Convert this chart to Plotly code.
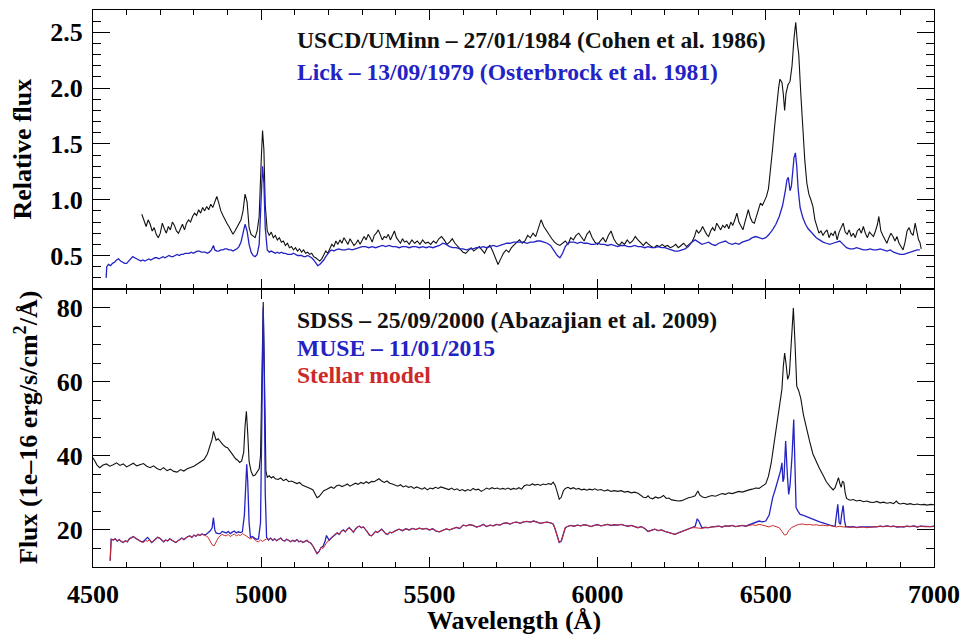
import plotly.graph_objects as go

# ---------------- Top panel: relative flux ----------------
uscd_wl = [4645,4652,4658,4664,4670,4676,4682,4688,4694,4700,4706,4712,4718,4724,4730,4736,4742,4748,4754,4760,
           4766,4772,4778,4784,4790,4796,4802,4808,4814,4820,4826,4832,4838,4844,4850,4856,4862,4868,4874,4880,
           4886,4892,4898,4904,4910,4916,4922,4928,4934,4940,4946,4952,4958,4964,4970,4976,4982,4988,4994,5000,
           5004,5008,5012,5018,5024,5030,5036,5042,5048,5054,5060,5066,5072,5078,5084,5090,5096,5102,5108,5114,
           5120,5126,5132,5138,5144,5150,5156,5162,5168,5174,5180,5186,5192,5198,5204,5210,5216,5222,5228,5234,
           5240,5246,5252,5258,5264,5270,5276,5282,5288,5294,5300,5306,5312,5318,5324,5330,5336,5342,5348,5354,
           5360,5366,5372,5378,5384,5390,5396,5402,5408,5414,5420,5426,5432,5440,5448,5456,5464,5472,5480,5488,
           5496,5504,5512,5520,5528,5536,5544,5552,5560,5568,5576,5584,5592,5600,5608,5616,5624,5632,5640,5648,
           5656,5664,5672,5680,5688,5696,5704,5712,5720,5728,5736,5744,5752,5760,5768,5776,5784,5792,5800,5808,
           5816,5824,5832,5840,5848,5856,5864,5872,5880,5888,5896,5904,5912,5920,5928,5936,5944,5952,5960,5968,
           5976,5984,5992,6000,6008,6016,6024,6032,6040,6048,6056,6064,6072,6080,6088,6096,6104,6112,6120,6128,
           6136,6144,6152,6160,6168,6176,6184,6192,6200,6208,6216,6224,6232,6240,6248,6256,6264,6272,6280,6288,
           6294,6300,6306,6312,6318,6324,6330,6336,6342,6348,6354,6360,6366,6372,6378,6384,6390,6396,6402,6408,
           6414,6420,6426,6432,6438,6444,6448,6454,6460,6466,6472,6478,6484,6490,6496,6502,6508,6514,6520,6526,
           6532,6538,6542,6548,6552,6556,6560,6566,6572,6578,6584,6589,6594,6598,6604,6610,6616,6622,6628,6634,
           6640,6646,6652,6658,6664,6670,6676,6682,6688,6694,6700,6706,6712,6718,6724,6730,6736,6742,6748,6754,
           6760,6766,6772,6778,6784,6790,6796,6802,6808,6814,6820,6826,6832,6836,6842,6848,6854,6860,6866,6872,
           6878,6884,6890,6896,6902,6908,6914,6920,6926,6932,6938,6944,6950,6954,6958,6962]
uscd_flux = [0.87,0.80,0.76,0.82,0.78,0.72,0.75,0.69,0.66,0.70,0.79,0.74,0.70,0.76,0.73,0.80,0.77,0.72,0.70,0.74,
             0.78,0.73,0.79,0.82,0.80,0.85,0.88,0.86,0.91,0.88,0.93,0.90,0.94,0.91,0.96,0.93,0.98,1.03,0.97,0.90,
             0.86,0.82,0.79,0.76,0.72,0.69,0.72,0.75,0.78,0.82,0.90,1.05,0.98,0.75,0.69,0.67,0.66,0.72,0.85,1.35,
             1.62,1.45,0.95,0.72,0.68,0.71,0.66,0.68,0.64,0.66,0.62,0.63,0.59,0.61,0.57,0.58,0.55,0.57,0.54,0.56,
             0.53,0.55,0.52,0.53,0.51,0.52,0.49,0.48,0.46,0.45,0.47,0.50,0.54,0.52,0.57,0.60,0.58,0.63,0.60,0.64,
             0.61,0.66,0.63,0.60,0.65,0.62,0.59,0.61,0.64,0.60,0.63,0.67,0.64,0.69,0.66,0.62,0.68,0.70,0.73,0.68,
             0.64,0.67,0.66,0.69,0.64,0.68,0.72,0.66,0.63,0.61,0.65,0.62,0.63,0.60,0.64,0.61,0.63,0.60,0.64,0.61,
             0.62,0.60,0.63,0.61,0.65,0.67,0.64,0.60,0.62,0.65,0.61,0.58,0.55,0.53,0.52,0.55,0.57,0.54,0.56,0.58,
             0.55,0.52,0.57,0.59,0.54,0.48,0.42,0.47,0.52,0.55,0.53,0.57,0.60,0.62,0.64,0.61,0.63,0.68,0.66,0.70,
             0.67,0.74,0.82,0.76,0.72,0.69,0.65,0.62,0.60,0.59,0.61,0.63,0.60,0.66,0.64,0.68,0.70,0.66,0.63,0.69,
             0.72,0.66,0.62,0.60,0.63,0.66,0.62,0.68,0.72,0.65,0.61,0.59,0.62,0.60,0.64,0.61,0.63,0.67,0.64,0.61,
             0.59,0.62,0.60,0.58,0.57,0.59,0.58,0.60,0.58,0.59,0.57,0.58,0.60,0.57,0.59,0.61,0.58,0.60,0.62,0.67,
             0.73,0.70,0.72,0.76,0.72,0.69,0.67,0.72,0.75,0.72,0.79,0.76,0.73,0.77,0.75,0.78,0.74,0.80,0.77,0.82,
             0.88,0.80,0.76,0.73,0.80,0.86,0.91,0.84,0.80,0.79,0.85,0.92,0.97,0.95,0.99,1.03,1.10,1.25,1.45,1.65,
             1.85,2.00,2.08,2.05,1.95,1.80,1.95,2.03,2.06,2.20,2.45,2.59,2.40,2.30,1.95,1.60,1.35,1.15,1.05,1.00,
             0.94,0.82,0.75,0.70,0.72,0.68,0.71,0.73,0.66,0.70,0.68,0.72,0.64,0.71,0.75,0.79,0.71,0.69,0.73,0.67,
             0.70,0.66,0.72,0.74,0.70,0.76,0.70,0.66,0.71,0.69,0.67,0.72,0.78,0.85,0.72,0.68,0.64,0.61,0.66,0.70,
             0.67,0.63,0.67,0.61,0.58,0.55,0.62,0.72,0.75,0.70,0.68,0.79,0.70,0.64,0.62,0.56]

lick_wl = [4539,4541,4546,4552,4558,4564,4570,4576,4582,4588,4594,4600,4606,4612,4618,4624,4630,4636,4642,4648,
           4654,4660,4666,4672,4678,4684,4690,4696,4702,4708,4714,4720,4726,4732,4738,4744,4750,4756,4762,4768,
           4774,4780,4786,4792,4798,4804,4810,4816,4822,4828,4834,4840,4846,4852,4858,4862,4868,4874,4880,4886,
           4892,4898,4904,4910,4916,4922,4928,4934,4940,4946,4952,4958,4964,4970,4976,4982,4988,4994,5000,5004,
           5008,5012,5018,5024,5030,5036,5042,5048,5054,5060,5066,5072,5078,5084,5090,5096,5102,5108,5114,5120,
           5126,5132,5138,5144,5150,5156,5162,5168,5174,5180,5186,5192,5198,5204,5210,5216,5222,5230,5240,5250,
           5260,5270,5280,5290,5300,5310,5320,5330,5340,5350,5360,5370,5380,5390,5400,5410,5420,5430,5440,5450,
           5460,5470,5480,5490,5500,5510,5520,5530,5540,5550,5560,5570,5580,5590,5600,5610,5620,5630,5640,5650,
           5660,5670,5680,5690,5700,5710,5720,5730,5740,5750,5760,5770,5780,5790,5800,5810,5820,5830,5840,5850,
           5860,5870,5880,5888,5896,5904,5912,5920,5930,5940,5950,5960,5970,5980,5990,6000,6010,6020,6030,6040,
           6050,6060,6070,6080,6090,6100,6110,6120,6130,6140,6150,6160,6170,6180,6190,6200,6210,6220,6230,6240,
           6250,6260,6270,6280,6290,6300,6310,6320,6330,6340,6350,6360,6370,6380,6390,6400,6410,6420,6430,6440,
           6450,6460,6470,6480,6490,6500,6510,6520,6530,6540,6550,6558,6563,6567,6572,6576,6580,6584,6588,6592,
           6596,6602,6610,6618,6626,6634,6642,6650,6660,6670,6680,6690,6700,6710,6720,6730,6740,6750,6760,6770,
           6780,6790,6800,6810,6820,6830,6840,6850,6860,6870,6880,6890,6900,6910,6920,6930,6940,6950,6958]
lick_flux = [0.30,0.40,0.42,0.41,0.43,0.44,0.46,0.47,0.45,0.44,0.43,0.43,0.45,0.47,0.49,0.48,0.47,0.46,0.45,0.46,
             0.45,0.46,0.47,0.46,0.47,0.48,0.48,0.47,0.48,0.49,0.48,0.49,0.50,0.49,0.49,0.50,0.51,0.50,0.51,0.51,
             0.52,0.52,0.52,0.53,0.52,0.53,0.54,0.54,0.53,0.53,0.53,0.52,0.53,0.55,0.59,0.55,0.54,0.54,0.55,0.55,
             0.56,0.56,0.55,0.55,0.54,0.55,0.56,0.58,0.62,0.70,0.78,0.72,0.60,0.53,0.50,0.49,0.51,0.60,1.10,1.30,
             1.15,0.75,0.55,0.53,0.54,0.53,0.52,0.53,0.52,0.53,0.52,0.52,0.51,0.51,0.51,0.52,0.51,0.50,0.50,0.50,
             0.49,0.49,0.50,0.49,0.48,0.46,0.43,0.41,0.42,0.44,0.46,0.49,0.52,0.54,0.55,0.54,0.55,0.56,0.55,0.55,
             0.56,0.55,0.56,0.57,0.58,0.58,0.57,0.58,0.57,0.58,0.59,0.58,0.59,0.58,0.58,0.57,0.58,0.58,0.57,0.58,
             0.58,0.57,0.58,0.57,0.58,0.57,0.58,0.59,0.61,0.60,0.58,0.57,0.57,0.56,0.56,0.55,0.56,0.56,0.57,0.57,
             0.58,0.57,0.58,0.59,0.58,0.59,0.60,0.61,0.61,0.62,0.62,0.62,0.62,0.61,0.62,0.62,0.63,0.63,0.62,0.61,
             0.59,0.55,0.50,0.48,0.52,0.58,0.61,0.62,0.62,0.61,0.62,0.61,0.61,0.60,0.60,0.61,0.60,0.60,0.59,0.60,
             0.59,0.58,0.59,0.59,0.58,0.58,0.59,0.58,0.58,0.57,0.58,0.57,0.57,0.58,0.57,0.57,0.56,0.55,0.54,0.54,
             0.55,0.56,0.58,0.62,0.64,0.62,0.60,0.61,0.62,0.60,0.59,0.61,0.62,0.63,0.61,0.60,0.61,0.60,0.62,0.63,
             0.64,0.66,0.67,0.66,0.65,0.66,0.69,0.73,0.78,0.85,0.95,1.08,1.18,1.20,1.08,1.12,1.25,1.38,1.42,1.30,
             1.10,0.93,0.84,0.78,0.74,0.71,0.68,0.66,0.64,0.62,0.61,0.60,0.61,0.62,0.63,0.60,0.57,0.56,0.56,0.57,
             0.56,0.55,0.55,0.56,0.55,0.55,0.56,0.55,0.54,0.55,0.53,0.52,0.51,0.51,0.52,0.53,0.54,0.55,0.55]

# ---------------- Bottom panel: absolute flux ----------------
sdss_wl = [4500,4506,4512,4520,4530,4540,4550,4560,4570,4580,4590,4600,4610,4620,4630,4640,4650,4660,4670,4680,
           4690,4700,4710,4720,4730,4740,4750,4760,4770,4780,4790,4800,4810,4820,4830,4840,4848,4854,4858,4862,
           4866,4872,4878,4886,4894,4900,4908,4916,4924,4930,4936,4942,4948,4952,4956,4960,4964,4970,4976,4982,
           4988,4994,4998,5002,5006,5010,5014,5018,5024,5030,5036,5042,5050,5058,5066,5074,5082,5090,5098,5106,
           5114,5122,5130,5138,5146,5154,5160,5166,5172,5178,5186,5194,5200,5208,5216,5224,5232,5240,5248,5256,
           5264,5272,5280,5288,5296,5304,5312,5320,5328,5336,5344,5350,5358,5366,5374,5382,5390,5398,5406,5414,
           5422,5430,5438,5446,5454,5462,5470,5478,5486,5494,5502,5510,5518,5526,5534,5542,5550,5558,5566,5574,
           5582,5590,5598,5606,5614,5622,5630,5638,5646,5654,5662,5670,5678,5686,5694,5702,5710,5718,5726,5734,
           5742,5750,5758,5766,5774,5782,5790,5798,5806,5814,5822,5830,5838,5846,5854,5862,5868,5874,5880,5886,
           5892,5898,5904,5912,5920,5928,5936,5944,5952,5960,5968,5976,5984,5992,6000,6010,6020,6030,6040,6050,
           6060,6070,6080,6090,6100,6110,6120,6128,6136,6144,6150,6156,6164,6172,6180,6188,6196,6204,6212,6220,
           6230,6240,6250,6260,6270,6280,6290,6298,6304,6312,6320,6330,6340,6350,6360,6370,6380,6390,6400,6410,
           6420,6430,6440,6450,6460,6470,6480,6490,6500,6508,6516,6524,6532,6538,6544,6548,6552,6556,6560,6565,
           6570,6576,6582,6587,6592,6598,6604,6612,6620,6630,6640,6650,6660,6670,6680,6690,6700,6706,6712,6716,
           6720,6724,6728,6732,6736,6740,6750,6760,6770,6780,6790,6800,6810,6820,6830,6840,6850,6860,6870,6880,
           6888,6894,6900,6910,6920,6930,6940,6950,6960,6970,6980,6990,7000]
sdss_flux = [39.5,38.6,37.5,36.8,37.5,37.8,37.2,37.6,38.1,37.4,37.8,37.0,37.5,38.0,37.3,37.6,37.9,37.2,36.8,37.3,
             36.6,36.2,36.8,36.0,36.4,35.8,35.6,36.3,35.9,36.5,36.8,37.2,37.8,38.4,39.0,40.5,42.5,44.5,46.6,45.0,
             44.2,44.6,43.8,43.0,42.4,42.2,41.2,40.2,39.2,38.8,38.2,38.6,41.0,48.0,52.0,46.0,38.5,35.8,34.6,34.8,
             35.6,36.5,40.0,65.0,81.5,60.0,36.0,34.2,34.6,34.0,34.4,33.8,33.6,34.0,33.3,33.7,33.0,33.2,32.8,32.5,
             32.8,32.1,31.8,31.6,31.2,30.8,29.8,28.7,29.0,29.8,30.6,30.9,31.2,31.6,31.2,31.9,32.1,31.7,32.0,32.4,
             31.8,32.2,32.6,32.3,32.8,32.5,33.0,32.6,33.1,33.0,33.6,33.8,33.2,32.8,33.2,32.6,32.4,32.0,31.8,32.2,
             31.6,31.9,31.5,31.7,31.2,31.6,31.3,31.0,31.4,30.8,31.3,31.1,31.5,31.2,31.6,31.3,31.0,30.9,31.3,30.8,
             31.1,30.6,30.9,30.5,30.9,30.6,31.2,30.8,31.0,30.4,30.8,31.3,31.0,31.4,31.1,31.3,31.0,31.2,31.0,31.3,
             30.9,31.2,31.0,31.4,31.0,31.9,32.2,32.0,32.4,32.1,32.3,32.0,32.4,32.2,32.5,32.3,32.9,32.0,30.2,28.3,
             28.8,30.5,31.2,31.5,31.1,31.4,31.0,31.2,30.8,31.0,30.7,31.0,30.8,31.1,30.7,30.9,30.5,30.8,30.4,30.6,
             30.4,30.6,30.2,30.4,30.0,30.2,29.9,29.4,28.8,28.7,29.2,28.6,28.4,28.9,28.6,28.8,29.3,28.5,28.6,28.1,
             27.9,27.8,27.9,28.4,28.7,28.9,29.2,30.5,29.4,28.9,28.7,29.0,29.3,29.1,29.5,29.8,29.6,30.0,29.8,30.1,
             30.4,30.2,30.6,30.8,31.0,31.3,31.2,31.8,32.5,34.5,38.0,43.0,48.0,52.0,55.0,58.0,64.0,67.7,65.0,60.6,
             62.0,72.0,79.9,70.0,58.8,57.5,55.5,51.0,47.5,44.0,40.5,38.3,36.5,34.8,33.0,31.8,30.8,31.4,33.5,34.1,
             32.6,31.5,33.2,32.8,30.0,28.5,28.0,28.2,27.8,28.0,27.6,27.8,27.5,27.4,27.7,27.3,27.5,27.2,27.4,27.1,
             27.8,27.2,27.0,27.2,26.9,27.1,26.8,27.0,26.8,26.9,26.7,26.9,26.8]

model_wl = [4551,4554,4560,4566,4572,4578,4584,4590,4596,4602,4608,4614,4620,4626,4632,4638,4644,4650,4656,4662,
            4668,4674,4680,4686,4692,4698,4704,4710,4716,4722,4728,4734,4740,4746,4752,4758,4764,4770,4776,4782,
            4788,4794,4800,4806,4812,4818,4824,4830,4836,4842,4848,4854,4860,4866,4872,4878,4884,4890,4896,4902,
            4908,4914,4920,4926,4932,4938,4944,4950,4956,4962,4968,4974,4980,4986,4992,4998,5004,5010,5016,5022,
            5028,5034,5040,5046,5052,5058,5064,5070,5076,5082,5088,5094,5100,5106,5112,5118,5124,5130,5136,5142,
            5148,5154,5160,5166,5172,5178,5184,5190,5196,5202,5208,5214,5220,5226,5232,5238,5244,5250,5256,5262,
            5268,5274,5280,5286,5292,5298,5304,5310,5316,5322,5328,5334,5340,5346,5352,5358,5364,5370,5376,5382,
            5388,5394,5400,5410,5420,5430,5440,5450,5460,5470,5480,5490,5500,5510,5520,5530,5540,5550,5560,5570,
            5580,5590,5600,5610,5620,5630,5640,5650,5660,5670,5680,5690,5700,5710,5720,5730,5740,5750,5760,5770,
            5780,5790,5800,5810,5820,5830,5840,5850,5860,5868,5874,5880,5886,5892,5898,5904,5912,5920,5930,5940,
            5950,5960,5970,5980,5990,6000,6010,6020,6030,6040,6050,6060,6070,6080,6090,6100,6110,6120,6130,6140,
            6150,6160,6170,6180,6190,6200,6210,6220,6230,6240,6250,6260,6270,6280,6290,6300,6310,6320,6330,6340,
            6350,6360,6370,6380,6390,6400,6410,6420,6430,6440,6450,6460,6470,6480,6490,6500,6510,6520,6530,6540,
            6548,6556,6562,6568,6576,6584,6592,6600,6610,6620,6630,6640,6650,6660,6670,6680,6690,6700,6710,6720,
            6730,6740,6750,6760,6770,6780,6790,6800,6810,6820,6830,6840,6850,6860,6870,6880,6890,6900,6910,6920,
            6930,6940,6950,6960,6970,6980,6990,7000]
model_flux = [11.7,17.5,17.3,17.6,17.0,17.4,16.9,16.6,17.1,16.8,17.6,18.0,18.2,17.8,17.4,17.0,16.8,16.6,17.2,16.9,
              17.4,16.6,17.0,17.6,18.0,17.8,17.4,16.8,17.3,17.0,17.6,17.2,16.9,16.6,17.0,17.5,17.8,17.4,17.9,18.2,
              18.4,18.0,18.6,18.3,18.8,18.5,18.9,18.7,18.4,18.0,17.0,16.0,15.7,16.8,17.8,18.4,18.8,18.5,18.4,18.8,
              18.2,18.6,18.9,18.4,18.7,18.5,19.0,18.7,18.3,18.0,17.6,17.9,17.4,17.0,16.8,17.3,16.9,17.2,17.6,17.3,
              17.8,17.2,17.6,17.1,17.5,17.8,17.2,17.0,17.5,17.1,16.8,17.2,16.9,17.4,16.8,17.0,16.6,16.9,17.2,16.7,
              16.4,15.6,14.4,13.6,14.2,15.3,15.0,16.0,16.8,17.2,17.8,18.3,18.8,19.2,18.8,19.6,20.0,19.5,20.2,20.6,
              20.0,19.4,20.2,20.8,21.0,20.6,20.8,20.2,19.4,18.6,18.4,19.0,19.6,19.3,19.8,20.2,19.6,19.0,18.8,19.4,
              19.2,19.6,19.8,20.2,19.8,20.3,20.0,20.4,20.1,20.5,20.2,20.4,20.0,20.3,19.7,19.5,19.9,20.3,20.0,20.4,
              20.7,20.4,21.3,21.1,21.4,21.2,20.8,21.0,21.5,20.9,21.3,21.1,21.5,21.3,21.8,21.9,21.6,22.0,22.1,21.8,
              22.2,22.3,22.1,22.4,22.2,21.8,22.0,22.1,21.9,21.6,20.2,18.0,16.6,17.0,19.0,20.6,21.0,21.2,21.0,21.3,
              21.1,21.4,21.2,20.9,21.2,21.4,21.1,21.3,21.5,21.2,21.4,21.3,21.5,21.2,21.0,21.2,20.9,20.6,20.9,20.4,
              19.6,19.8,20.2,19.8,20.0,19.6,19.4,19.0,18.8,19.2,19.6,20.0,20.3,20.6,20.6,20.5,20.4,20.7,20.6,20.8,
              20.9,21.0,20.8,21.1,21.0,21.2,20.9,21.1,21.2,21.0,21.3,21.4,21.2,21.5,21.3,21.1,20.8,21.2,21.0,20.6,
              19.6,18.6,18.8,19.8,20.6,21.0,21.3,21.5,21.6,21.4,21.5,21.3,21.4,21.2,21.3,21.1,21.2,21.0,20.8,21.0,
              20.8,20.9,20.7,20.8,20.6,20.7,20.8,20.6,20.7,20.9,20.8,21.0,20.9,21.1,20.9,21.0,20.8,20.9,20.8,21.0,
              20.9,21.1,20.8,21.0,20.9,20.8,20.9,21.0]

muse_wl = [4551,4554,4560,4566,4572,4578,4584,4590,4596,4602,4608,4614,4620,4626,4632,4638,4644,4650,4656,4662,
           4668,4674,4680,4686,4692,4698,4704,4710,4716,4722,4728,4734,4740,4746,4752,4758,4764,4770,4776,4782,
           4788,4794,4800,4806,4812,4818,4824,4830,4836,4842,4848,4854,4858,4862,4866,4872,4878,4884,4890,4896,
           4902,4908,4914,4920,4926,4932,4938,4944,4950,4954,4957,4960,4964,4968,4974,4980,4986,4992,4998,5002,
           5006,5009,5012,5016,5022,5028,5034,5040,5046,5052,5058,5064,5070,5076,5082,5088,5094,5100,5106,5112,
           5118,5124,5130,5136,5142,5148,5154,5160,5166,5172,5178,5184,5190,5194,5198,5202,5208,5214,5220,5226,
           5232,5238,5244,5250,5256,5262,5268,5274,5280,5286,5292,5298,5304,5310,5316,5322,5328,5334,5340,5346,
           5352,5358,5364,5370,5376,5382,5388,5394,5400,5410,5420,5430,5440,5450,5460,5470,5480,5490,5500,5510,
           5520,5530,5540,5550,5560,5570,5580,5590,5600,5610,5620,5630,5640,5650,5660,5670,5680,5690,5700,5710,
           5720,5730,5740,5750,5760,5770,5780,5790,5800,5810,5820,5830,5840,5850,5860,5868,5874,5880,5886,5892,
           5898,5904,5912,5920,5930,5940,5950,5960,5970,5980,5990,6000,6010,6020,6030,6040,6050,6060,6070,6080,
           6090,6100,6110,6120,6130,6140,6150,6160,6170,6180,6190,6200,6210,6220,6230,6240,6250,6260,6270,6280,
           6290,6296,6300,6304,6310,6320,6330,6340,6350,6360,6370,6380,6390,6400,6410,6420,6430,6440,6450,6460,
           6470,6480,6490,6500,6510,6520,6530,6538,6544,6548,6551,6554,6559,6564,6568,6572,6578,6583,6587,6590,
           6596,6602,6610,6620,6630,6640,6650,6660,6670,6680,6690,6700,6706,6710,6714,6718,6722,6726,6730,6734,
           6738,6745,6750,6760,6770,6780,6790,6800,6810,6820,6830,6840,6850,6860,6870,6880,6890,6900,6910,6920,
           6930,6940,6950,6960,6970,6980,6990,7000]
muse_flux = [11.7,17.5,17.3,17.6,17.0,17.4,16.9,16.6,17.1,16.8,17.6,18.0,18.2,17.8,17.4,17.0,16.8,16.9,17.6,18.0,
             17.4,16.6,17.0,17.6,18.0,17.8,17.4,16.8,17.3,17.0,17.6,17.2,16.9,16.6,17.0,17.5,17.8,17.4,17.9,18.2,
             18.4,18.0,18.6,18.3,18.8,18.5,18.9,18.7,18.8,19.2,19.7,20.5,23.3,20.0,19.2,19.0,19.0,19.6,19.4,19.2,
             19.6,19.0,19.4,19.7,19.2,19.5,19.3,19.5,24.0,34.0,37.7,33.0,22.0,18.0,18.2,17.8,17.5,17.6,22.0,50.0,
             80.0,62.0,30.0,18.0,17.3,17.8,17.2,17.6,17.1,17.5,17.8,17.2,17.0,17.5,17.1,16.8,17.2,16.9,17.4,16.8,
             17.0,16.6,16.9,17.2,16.7,16.4,15.6,14.4,13.6,14.2,15.3,15.6,17.0,18.5,17.6,17.2,17.8,18.3,18.8,19.2,
             18.8,19.6,20.0,19.5,20.2,20.6,20.0,19.4,20.2,20.8,21.0,20.6,20.8,20.2,19.4,18.6,18.4,19.0,19.6,19.3,
             19.8,20.2,19.6,19.0,18.8,19.4,19.2,19.6,19.8,20.2,19.8,20.3,20.0,20.4,20.1,20.5,20.2,20.4,20.0,20.3,
             19.7,19.5,19.9,20.3,20.0,20.4,20.7,20.4,21.3,21.1,21.4,21.2,20.8,21.0,21.5,20.9,21.3,21.1,21.5,21.3,
             21.8,21.9,21.6,22.0,22.1,21.8,22.2,22.3,22.1,22.4,22.2,21.8,22.0,22.1,21.9,21.6,20.2,18.0,16.6,17.0,
             19.0,20.6,21.0,21.2,21.0,21.3,21.1,21.4,21.2,20.9,21.2,21.4,21.1,21.3,21.5,21.2,21.4,21.3,21.5,21.2,
             21.0,21.2,20.9,20.6,20.9,20.4,19.6,19.8,20.2,19.8,20.0,19.6,19.4,19.0,18.8,19.2,19.6,20.0,20.3,20.6,
             21.0,22.9,22.6,21.8,20.6,20.7,20.6,20.8,20.9,21.0,20.8,21.1,21.0,21.2,20.9,21.1,21.2,21.0,21.3,21.6,
             22.0,22.4,22.2,22.4,24.0,28.5,31.5,34.0,36.0,38.1,33.0,34.0,44.0,35.0,29.6,32.0,40.0,49.8,38.0,26.0,
             25.0,24.2,24.0,23.6,23.2,22.9,22.6,22.2,21.9,21.5,21.3,21.1,21.0,24.0,26.9,22.0,21.5,24.5,26.6,22.5,
             20.8,20.9,20.8,20.9,20.7,20.8,20.8,20.7,20.8,20.9,20.8,21.0,20.9,21.1,20.9,21.0,20.8,20.9,20.8,21.0,
             20.9,21.1,20.8,21.0,20.9,20.8,20.9,21.0]

x_range = [4500, 7000]
top_range = [0.2, 2.7]
bottom_range = [10, 85]

BLACK = "#111111"
BLUE = "#2323c4"
RED = "#cc2a2a"
FONT = "Liberation Serif"

fig = go.Figure()
fig.add_trace(go.Scatter(x=uscd_wl, y=uscd_flux, mode="lines", line=dict(color=BLACK, width=1.1),
                         xaxis="x", yaxis="y", showlegend=False))
fig.add_trace(go.Scatter(x=lick_wl, y=lick_flux, mode="lines", line=dict(color=BLUE, width=1.3),
                         xaxis="x", yaxis="y", showlegend=False))
fig.add_trace(go.Scatter(x=sdss_wl, y=sdss_flux, mode="lines", line=dict(color=BLACK, width=1.1),
                         xaxis="x2", yaxis="y2", showlegend=False))
fig.add_trace(go.Scatter(x=muse_wl, y=muse_flux, mode="lines", line=dict(color=BLUE, width=1.3),
                         xaxis="x2", yaxis="y2", showlegend=False))
fig.add_trace(go.Scatter(x=model_wl, y=model_flux, mode="lines", line=dict(color=RED, width=1.0),
                         xaxis="x2", yaxis="y2", showlegend=False))

split = 0.4991
common_axis = dict(showline=True, linecolor="black", linewidth=1, mirror="allticks", ticks="inside",
                   tickcolor="black", showgrid=False, zeroline=False, automargin=False,
                   tickfont=dict(family=FONT, size=26, color="black", weight="bold"))

fig.update_layout(
    width=964, height=635,
    margin=dict(l=93, r=30, t=10, b=68, autoexpand=False),
    paper_bgcolor="white", plot_bgcolor="white",
    font=dict(family=FONT, color="black"),
    xaxis=dict(common_axis, domain=[0, 1], anchor="y", range=x_range, dtick=500, ticklen=10,
               showticklabels=False, matches="x2",
               minor=dict(ticks="inside", ticklen=5, dtick=100, tickcolor="black")),
    yaxis=dict(common_axis, domain=[split, 1], anchor="x", range=top_range, dtick=0.5, tick0=0,
               tickformat=".1f", ticklen=17, ticklabelstandoff=4,
               minor=dict(ticks="inside", ticklen=8, dtick=0.1, tickcolor="black")),
    xaxis2=dict(common_axis, domain=[0, 1], anchor="y2", range=x_range, dtick=500, ticklen=10,
                ticklabelstandoff=4,
                minor=dict(ticks="inside", ticklen=5, dtick=100, tickcolor="black")),
    yaxis2=dict(common_axis, domain=[0, split], anchor="x2", range=bottom_range, dtick=20, tick0=0,
                ticklen=17, ticklabelstandoff=4,
                minor=dict(ticks="inside", ticklen=8, dtick=5, tickcolor="black")),
)

ann_font = dict(family=FONT, size=23.6, weight="bold")
annotations = [
    dict(text="USCD/UMinn – 27/01/1984 (Cohen et al. 1986)", color=BLACK, xp=295, yp=40),
    dict(text="Lick – 13/09/1979 (Osterbrock et al. 1981)", color=BLUE, xp=295, yp=72),
    dict(text="SDSS – 25/09/2000 (Abazajian et al. 2009)", color=BLACK, xp=295, yp=320),
    dict(text="MUSE – 11/01/2015", color=BLUE, xp=295, yp=348),
    dict(text="Stellar model", color=RED, xp=295, yp=375),
]
for a in annotations:
    fig.add_annotation(text=a["text"], xref="paper", yref="paper",
                       x=(a["xp"] - 93) / 841, y=1 - (a["yp"] - 10) / 557,
                       xanchor="left", yanchor="middle", showarrow=False,
                       font=dict(ann_font, color=a["color"]))

title_font = dict(family=FONT, size=26, color="black", weight="bold")
fig.add_annotation(text="Relative flux", xref="paper", yref="paper", x=0, xshift=-70,
                   y=(split + 1) / 2, textangle=-90, showarrow=False, font=title_font,
                   xanchor="center", yanchor="middle")
fig.add_annotation(text="Flux (1e–16 erg/s/cm<sup>2</sup>/Å)", xref="paper", yref="paper", x=0, xshift=-67,
                   y=split / 2, textangle=-90, showarrow=False, font=title_font,
                   xanchor="center", yanchor="middle")
fig.add_annotation(text="Wavelength (Å)", xref="paper", yref="paper", x=0.5, y=0, yshift=-53,
                   showarrow=False, font=title_font, xanchor="center", yanchor="middle")

fig.write_html("out.html", config={"displayModeBar": False},
               post_script="document.body.style.margin='0';")
